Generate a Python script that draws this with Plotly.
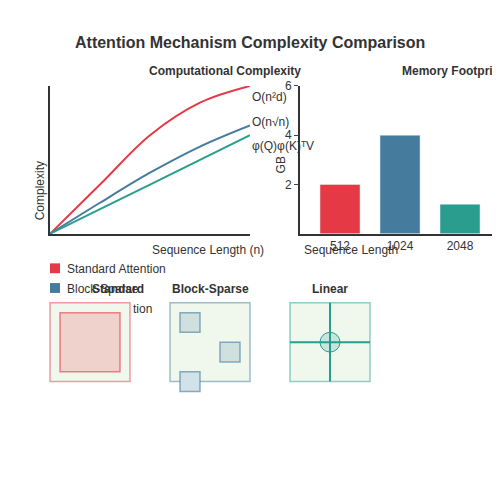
import plotly.graph_objects as go

seq_x = [0, 0.25, 0.5, 0.75, 1.0]
standard_y = [0, 0.333, 0.667, 0.887, 1.0]
sparse_y = [0, 0.21, 0.413, 0.59, 0.733]
linear_y = [0, 0.167, 0.333, 0.5, 0.667]
line_labels = ["O(n²d)", "O(n√n)", "φ(Q)φ(K)ᵀV"]
mem_cats = ["512", "1024", "2048"]
mem_vals = [2, 4, 1.2]
colors = ["#e63946", "#457b9d", "#2a9d8f"]
legend_names = ["Standard Attention", "Block-Sparse", "Linear Attention"]
diagram_titles = ["Standard", "Block-Sparse", "Linear"]

W = 484.0
OFF = 8.0
def px(x): return (x - OFF) / W
def py(y): return 1 - (y - OFF) / W

fig = go.Figure()
for ys, c in zip([standard_y, sparse_y, linear_y], colors):
    fig.add_trace(go.Scatter(x=seq_x, y=ys, mode="lines", line=dict(color=c, width=2, shape="spline"),
                             xaxis="x", yaxis="y", showlegend=False, hoverinfo="skip"))
fig.add_trace(go.Bar(x=mem_cats, y=mem_vals, marker_color=colors, width=0.667,
                     xaxis="x2", yaxis="y2", showlegend=False))

ann = []
ann.append(dict(x=1.0, y=standard_y[-1], xref="x", yref="y", text=line_labels[0], showarrow=False, xanchor="left", yanchor="top", yshift=-2))
ann.append(dict(x=1.0, y=sparse_y[-1], xref="x", yref="y", text=line_labels[1], showarrow=False, xanchor="left", yanchor="middle", yshift=3))
ann.append(dict(x=1.0, y=linear_y[-1], xref="x", yref="y", text=line_labels[2], showarrow=False, xanchor="left", yanchor="top", yshift=-2))
ann += [
    dict(x=px(250), y=py(25), xref="paper", yref="paper", text="<b>Attention Mechanism Complexity Comparison</b>", showarrow=False, font=dict(size=16, color="#333")),
    dict(x=px(225), y=py(56), xref="paper", yref="paper", text="<b>Computational Complexity</b>", showarrow=False, font=dict(size=12, color="#333")),
    dict(x=px(400), y=py(56), xref="paper", yref="paper", text="<b>Memory Footprint</b>", showarrow=False, xanchor="left", font=dict(size=12, color="#333")),
    dict(x=px(150), y=py(246), xref="paper", yref="paper", text="Sequence Length (n)", showarrow=False),
    dict(x=px(400), y=py(246), xref="paper", yref="paper", text="Sequence Length", showarrow=False),
    dict(x=px(31), y=py(155), xref="paper", yref="paper", text="Complexity", textangle=-90, showarrow=False),
    dict(x=px(281), y=py(150), xref="paper", yref="paper", text="GB", textangle=-90, showarrow=False),
]
for i, n in enumerate(legend_names[:2]):
    ann.append(dict(x=px(65), y=py(266 + 20 * i), xref="paper", yref="paper", text=n, showarrow=False, xanchor="left"))
ann.append(dict(x=px(131), y=py(306), xref="paper", yref="paper", text="tion", showarrow=False, xanchor="left"))
for t, cx in zip(diagram_titles, [90, 210, 330]):
    ann.append(dict(x=px(cx), y=py(286), xref="paper", yref="paper", text="<b>%s</b>" % t, showarrow=False, font=dict(size=12, color="#333")))

def rect(x0, y0, x1, y1, line, fill, lw=1.5):
    return dict(type="rect", xref="paper", yref="paper", x0=px(x0), x1=px(x1), y0=py(y1), y1=py(y0),
                line=dict(color=line, width=lw), fillcolor=fill, layer="above")
shapes = []
for i, c in enumerate(colors[:2]):
    shapes.append(rect(50, 260 + 20 * i, 60, 270 + 20 * i, c, c, 0))
shapes += [
    rect(50, 300, 130, 380, "rgba(230,57,70,0.5)", "#f0f8ee"),
    rect(60, 310, 120, 370, "rgba(230,57,70,0.6)", "#f0d2cd"),
    rect(170, 300, 250, 380, "rgba(69,123,157,0.5)", "#f0f8ee"),
    rect(180, 310, 200, 330, "rgba(69,123,157,0.6)", "#d0e0de"),
    rect(220, 340, 240, 360, "rgba(69,123,157,0.6)", "#d0e0de"),
    rect(180, 370, 200, 390, "rgba(69,123,157,0.6)", "#d3e1e8"),
    rect(290, 300, 370, 380, "rgba(42,157,143,0.5)", "#f0f8ee"),
    dict(type="line", xref="paper", yref="paper", x0=px(330), x1=px(330), y0=py(300), y1=py(380), line=dict(color="#2a9d8f", width=2), layer="above"),
    dict(type="line", xref="paper", yref="paper", x0=px(290), x1=px(370), y0=py(340), y1=py(340), line=dict(color="#2a9d8f", width=2), layer="above"),
    dict(type="circle", xref="paper", yref="paper", x0=px(320), x1=px(340), y0=py(350), y1=py(330), line=dict(color="#2a9d8f", width=1), fillcolor="rgba(42,157,143,0.2)", layer="above"),
]

ax = dict(showgrid=False, zeroline=False, showline=True, linecolor="#333", linewidth=2)
fig.update_layout(
    width=484, height=484, margin=dict(l=0, r=0, t=0, b=0),
    paper_bgcolor="white", plot_bgcolor="white",
    font=dict(family="Liberation Sans, Arial", size=12, color="#333"),
    xaxis=dict(domain=[px(50), px(250)], range=[0, 1], showticklabels=False, ticks="", **ax),
    yaxis=dict(domain=[py(230), py(80)], range=[0, 1], showticklabels=False, ticks="", **ax),
    xaxis2=dict(domain=[px(300), px(492)], range=[-0.667, 2.533], type="category", ticks="", anchor="y2", **ax),
    yaxis2=dict(domain=[py(230), py(80)], range=[0, 6], tickvals=[2, 4, 6], ticks="outside", ticklen=4, anchor="x2", **ax),
    annotations=ann, shapes=shapes,
)
fig.write_html("out.html")
